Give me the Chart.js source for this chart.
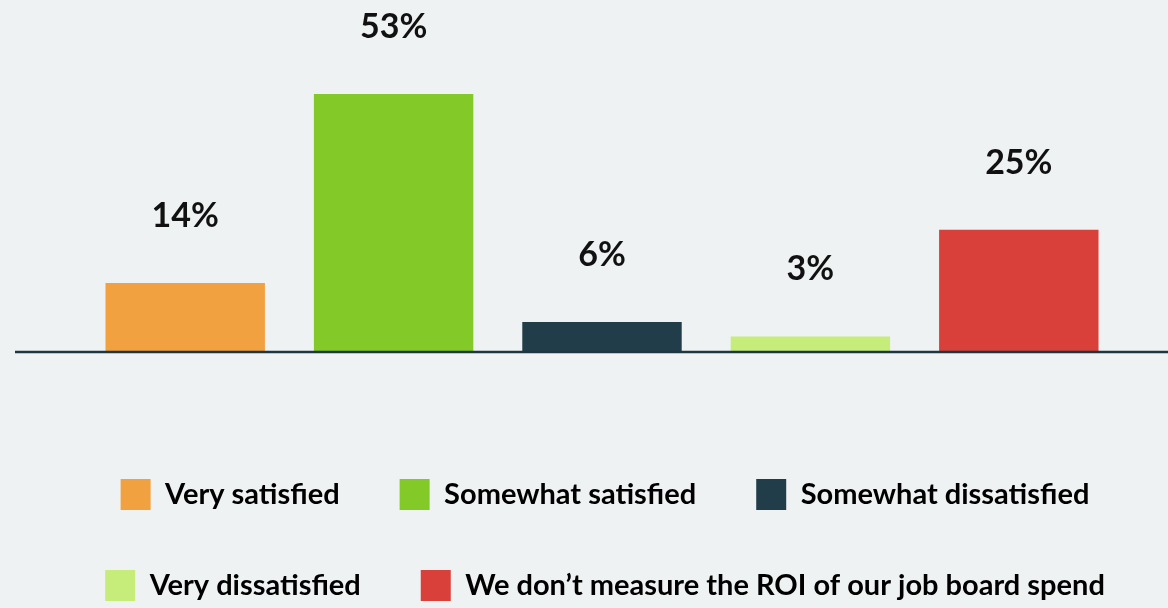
<!DOCTYPE html>
<html>
<head>
<meta charset="utf-8">
<script src="https://cdn.jsdelivr.net/npm/chart.js@4.4.0/dist/chart.umd.min.js"></script>
<style>
    html, body { margin: 0; padding: 0; background: #eff2f3; }
    #wrap { width: 1168px; height: 608px; position: relative; }
</style>
</head>
<body>
<div id="wrap"><canvas id="roiChart"></canvas></div>
<script>
// --- DATA ---
const categories = [
    'Very satisfied',
    'Somewhat satisfied',
    'Somewhat dissatisfied',
    'Very dissatisfied',
    'We don\u2019t measure the ROI of our job board spend'
];
const shares = [14, 53, 6, 3, 25];
const barColors = ['#f2a141', '#83c928', '#203d49', '#c6ec7a', '#d9403a'];

const FONT = "Lato, 'Source Sans Pro', 'Noto Sans', sans-serif";

// value labels sitting above each bar
const valueLabels = {
    id: 'valueLabels',
    afterDatasetsDraw(chart) {
        const ctx = chart.ctx;
        const meta = chart.getDatasetMeta(0);
        ctx.save();
        ctx.font = `bold 34px ${FONT}`;
        ctx.fillStyle = '#111111';
        ctx.textAlign = 'center';
        ctx.textBaseline = 'alphabetic';
        meta.data.forEach((bar, i) => {
            ctx.fillText(shares[i] + '%', bar.x, bar.y - 56);
        });
        ctx.restore();
    }
};

// dark rule along the zero line, running out to the right edge
const baseRule = {
    id: 'baseRule',
    afterDatasetsDraw(chart) {
        const ctx = chart.ctx;
        const y0 = chart.scales.y.getPixelForValue(0);
        ctx.save();
        ctx.strokeStyle = '#1e3641';
        ctx.lineWidth = 2.5;
        ctx.beginPath();
        ctx.moveTo(15, y0 + 1);
        ctx.lineTo(chart.width, y0 + 1);
        ctx.stroke();
        ctx.restore();
    }
};

const ctx = document.getElementById('roiChart').getContext('2d');
new Chart(ctx, {
    type: 'bar',
    data: {
        labels: categories,
        datasets: [{
            data: shares,
            backgroundColor: barColors,
            borderWidth: 0,
            barPercentage: 0.765,
            categoryPercentage: 1
        }]
    },
    options: {
        responsive: true,
        maintainAspectRatio: false,
        animation: false,
        layout: { padding: { top: 60, left: 42, right: 0, bottom: -3 } },
        plugins: {
            tooltip: { enabled: false },
            legend: {
                position: 'bottom',
                align: 'center',
                labels: {
                    color: '#111111',
                    font: { family: FONT, size: 29, weight: 'bold' },
                    boxWidth: 30,
                    boxHeight: 31,
                    padding: 60,
                    generateLabels: () => categories.map((c, i) => ({
                        text: c,
                        fillStyle: barColors[i],
                        strokeStyle: barColors[i],
                        lineWidth: 0,
                        hidden: false,
                        index: i
                    }))
                }
            }
        },
        scales: {
            x: {
                grid: { display: false },
                border: { display: false },
                ticks: { display: false },
                afterFit: (scale) => { scale.height = 68; }
            },
            y: {
                min: 0,
                max: 60,
                grid: { display: false },
                border: { display: false },
                ticks: { display: false },
                afterFit: (scale) => { scale.width = 39; }
            },
            yEdge: {
                type: 'linear',
                position: 'right',
                grid: { display: false },
                border: { display: false },
                ticks: { display: false },
                afterFit: (scale) => { scale.width = 45; }
            }
        }
    },
    plugins: [valueLabels, baseRule]
});
</script>
</body>
</html>
